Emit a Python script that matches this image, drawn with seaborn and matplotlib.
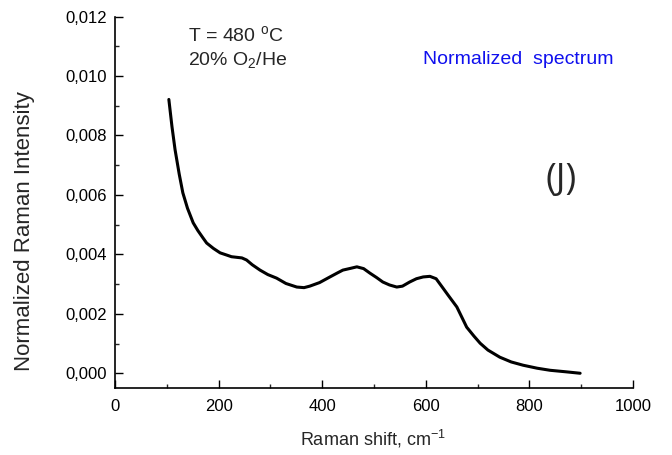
import numpy as np
import pandas as pd
import matplotlib
matplotlib.use("Agg")
import matplotlib.pyplot as plt
import seaborn as sns
from matplotlib.ticker import MultipleLocator, FuncFormatter

# Data (Raman shift, normalized intensity)
shift = [104, 110, 116, 124, 131, 140, 151, 160, 170, 177, 190, 203, 215, 225,
         235, 245, 254, 265, 280, 295, 312, 330, 351, 365, 376, 395, 415, 430,
         440, 455, 467, 480, 492, 505, 517, 530, 544, 555, 569, 582, 595, 608,
         620, 633, 643, 660, 679, 693, 705, 720, 743, 765, 788, 815, 840, 870,
         898]
intensity = [0.00921, 0.00830, 0.00752, 0.00670, 0.00607, 0.00555, 0.00506,
             0.00480, 0.00455, 0.00438, 0.00420, 0.00405, 0.00398, 0.00392,
             0.00390, 0.00388, 0.00381, 0.00365, 0.00347, 0.00332, 0.00320,
             0.00302, 0.00290, 0.00288, 0.00293, 0.00305, 0.00324, 0.00338,
             0.00347, 0.00353, 0.00358, 0.00352, 0.00337, 0.00322, 0.00307,
             0.00297, 0.00290, 0.00293, 0.00307, 0.00318, 0.00324, 0.00326,
             0.00318, 0.00287, 0.00263, 0.00223, 0.00155, 0.00125, 0.00101,
             0.00078, 0.00054, 0.00038, 0.00027, 0.00017, 0.00010, 0.00005,
             0.00000]

df = pd.DataFrame({"shift": shift, "intensity": intensity})

sns.set_style("ticks")
plt.rcParams["font.family"] = ["Liberation Sans", "DejaVu Sans"]
plt.rcParams["mathtext.fontset"] = "custom"
plt.rcParams["mathtext.rm"] = "Liberation Sans"
plt.rcParams["mathtext.it"] = "Liberation Sans:italic"

fig = plt.figure(figsize=(6.72, 4.55), dpi=100)
ax = fig.add_axes([0.1711, 0.1479, 0.7708, 0.8158])

sns.lineplot(data=df, x="shift", y="intensity", ax=ax, color="black",
             linewidth=2.2, sort=False)

ax.set_xlim(0, 1000)
ax.set_ylim(-0.000486, 0.012)
ax.xaxis.set_major_locator(MultipleLocator(200))
ax.xaxis.set_minor_locator(MultipleLocator(100))
ax.yaxis.set_major_locator(MultipleLocator(0.002))
ax.yaxis.set_minor_locator(MultipleLocator(0.001))
ax.yaxis.set_major_formatter(FuncFormatter(
    lambda v, p: f"{abs(v):.3f}".replace(".", ",")))
ax.tick_params(axis="both", which="major", direction="in", length=6, width=1,
               labelsize=12, colors="black")
ax.tick_params(axis="x", which="major", pad=8)
ax.tick_params(axis="y", which="major", pad=6)
ax.tick_params(axis="both", which="minor", direction="in", length=3, width=1)

for s in ["top", "right"]:
    ax.spines[s].set_visible(False)
for s in ["left", "bottom"]:
    ax.spines[s].set_linewidth(1.2)
    ax.spines[s].set_color("black")

ax.set_xlabel("Raman shift, cm$^{\\mathrm{-1}}$", fontsize=13)
ax.set_ylabel("Normalized Raman Intensity", fontsize=16)
ax.xaxis.set_label_coords(0.498, -0.138)
ax.yaxis.set_label_coords(-0.174, 0.422)
ax.xaxis.label.set_va("center")
ax.yaxis.label.set_va("center")

ax.text(0.141, 0.950, "T = 480 $^{\\mathrm{o}}$C", transform=ax.transAxes,
        fontsize=14, ha="left", va="center")
ax.text(0.141, 0.883, "20% O$_{\\mathrm{2}}$/He", transform=ax.transAxes,
        fontsize=14, ha="left", va="center")
ax.text(0.595, 0.885, "Normalized  spectrum", transform=ax.transAxes,
        fontsize=14, ha="left", va="center", color="#1010ee")
ax.text(0.861, 0.560, "(J)", transform=ax.transAxes, fontsize=26,
        ha="center", va="center", family=["Open Sans", "DejaVu Sans"])

fig.savefig("out.png", dpi=100)
